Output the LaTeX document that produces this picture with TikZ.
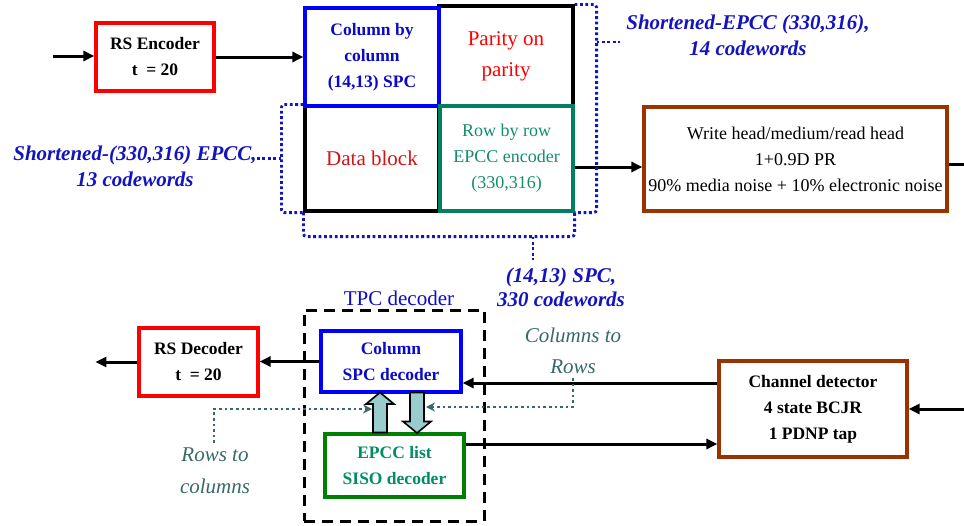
\documentclass[tikz,border=0pt]{standalone}
\usepackage{fontspec}
\setmainfont{Liberation Serif}
\usetikzlibrary{arrows.meta,calc}

\definecolor{rsred}{RGB}{255,0,0}
\definecolor{dred}{RGB}{210,20,20}
\definecolor{cblue}{RGB}{0,0,255}
\definecolor{tblue}{RGB}{10,10,200}
\definecolor{lblue}{RGB}{20,20,190}
\definecolor{rteal}{RGB}{0,128,96}
\definecolor{rtealtxt}{RGB}{20,140,110}
\definecolor{egreen}{RGB}{0,128,0}
\definecolor{egreentxt}{RGB}{0,140,100}
\definecolor{brown}{RGB}{153,51,0}
\definecolor{dotteal}{RGB}{55,105,105}
\definecolor{arrfill}{RGB}{153,204,204}

\begin{document}
\begin{tikzpicture}[x=1pt,y=-1pt,
  box/.style={draw, line width=3.2pt, inner sep=0pt, align=center},
  bfbox/.style={box, font=\fontsize{17.5}{26}\selectfont\bfseries},
  rmbox/.style={box, font=\fontsize{18}{26}\selectfont},
  bigbox/.style={box, font=\fontsize{21}{31}\selectfont},
  conn/.style={line width=3pt, -{Triangle[length=11pt,width=10pt]}},
  plainline/.style={line width=3pt},
  bracket/.style={lblue, line width=2.8pt, dash pattern=on 2.8pt off 2.6pt, rounded corners=3pt},
  dotconn/.style={dotteal, line width=2.6pt, dash pattern=on 2.6pt off 3pt,
    -{Stealth[length=9pt,width=9pt]}},
  blockarrow/.style={draw=black, line width=1.6pt, fill=arrfill, line join=miter},
  noteblue/.style={align=center, text=lblue, font=\fontsize{21}{26}\selectfont\bfseries\itshape},
  noteteal/.style={align=center, text=dotteal, font=\fontsize{21}{32}\selectfont\itshape}
]
\useasboundingbox (0,0) rectangle (964,525);

% ---------------- encoder chain ----------------
\node[bfbox, draw=rsred, minimum width=118pt, minimum height=68pt]
  (rsenc) at (155,57) {RS Encoder\\t~ = 20};

% product code array
\node[bigbox, draw=black, text=dred, minimum width=134pt, minimum height=105pt]
  (datablock) at (372,158.5) {Data block};
\node[bigbox, draw=black, text=rsred, minimum width=134pt, minimum height=100pt]
  (parity) at (506,56) {Parity on\\parity};
\node[bfbox, draw=cblue, text=tblue, minimum width=134pt, minimum height=98pt]
  (colbycol) at (372,57) {Column by\\column\\(14,13) SPC};
\node[rmbox, draw=rteal, text=rtealtxt, minimum width=133pt, minimum height=105pt]
  (rowbyrow) at (506.5,158.5) {Row by row\\EPCC encoder\\(330,316)};

\node[rmbox, draw=brown, minimum width=303pt, minimum height=104pt]
  (writehead) at (795.5,159)
  {Write head/medium/read head\\1+0.9D PR\\90\% media noise + 10\% electronic noise};

\coordinate (encin) at (53,56);
\draw[conn] (encin) -- (encin -| rsenc.west);
\draw[conn] (rsenc.east) -- (rsenc.east -| colbycol.west);
\coordinate (rowout) at ([yshift=-8.5pt]rowbyrow.east);
\draw[conn] (rowout) -- (rowout -| writehead.west);
\draw[plainline] ([yshift=-5pt]writehead.east) -- ++(20,0);

% code-structure brackets
\draw[bracket] (datablock.north west) -- ++(-22,0) |- (datablock.south west);
\draw[bracket] ($(datablock.west)+(-22,0)$) -- ++(-26,0);
\draw[bracket] (parity.north east) -- ++(22,0) |- (rowbyrow.south east);
\draw[bracket] ($(parity.east)+(22,-14)$) -- ++(23,0);
\draw[bracket] (datablock.south west) -- ++(0,24) -| (rowbyrow.south east);
\draw[bracket] ($(rowbyrow.south)+(26.5,24)$) -- ++(0,23);

\node[noteblue] (note13) at (135,166) {Shortened-(330,316) EPCC,\\13 codewords};
\node[noteblue] (note14) at (748,35) {Shortened-EPCC (330,316),\\14 codewords};
\node[noteblue, font=\fontsize{21}{24}\selectfont\bfseries\itshape]
  (notespc) at (561,287) {(14,13) SPC,\\330 codewords};

% ---------------- decoder chain ----------------
\node[draw=black, line width=3pt, dash pattern=on 11pt off 7pt,
  minimum width=180pt, minimum height=211pt, inner sep=0pt]
  (tpc) at (394,415.5) {};
\node[text=tblue, font=\fontsize{21}{26}\selectfont] (tpclabel) at (399,298) {TPC decoder};

\node[bfbox, draw=rsred, minimum width=119pt, minimum height=68pt]
  (rsdec) at (198.5,362) {RS Decoder\\t~ = 20};
\node[bfbox, draw=cblue, text=tblue, minimum width=140pt, minimum height=61pt]
  (colspc) at (391,361.5) {Column\\SPC decoder};
\node[bfbox, draw=egreen, text=egreentxt, minimum width=139pt, minimum height=63pt]
  (epcc) at (394.5,465.5) {EPCC list\\SISO decoder};
\node[bfbox, draw=brown, minimum width=188pt, minimum height=96pt]
  (chdet) at (813,409) {Channel detector\\4 state BCJR\\1 PDNP tap};

\draw[conn] (colspc.west) -- (colspc.west -| rsdec.east);
\draw[conn] (rsdec.west) -- ++(-42,0);
\coordinate (detout) at ([yshift=26pt]chdet.west);
\draw[conn] (detout) -- (detout -| colspc.east);
\coordinate (epccout) at ([yshift=21.5pt]epcc.east);
\draw[conn] (epccout) -- (epccout -| chdet.west);
\coordinate (detin) at (964,409);
\draw[conn] (detin) -- (chdet.east);

% exchange of extrinsic information between the component decoders
\draw[blockarrow] (373,432.5) -- (373,404) -- (366,404) -- (380,392.5)
  -- (394,404) -- (387,404) -- (387,432.5) -- cycle;
\draw[blockarrow] (410,392.5) -- (410,421.5) -- (403,421.5) -- (417,433)
  -- (431,421.5) -- (424,421.5) -- (424,392.5) -- cycle;
\coordinate (upshaft) at (372,409);
\coordinate (dnshaft) at (426,407);

\node[noteteal] (rowsto) at (215,471) {Rows to\\columns};
\node[noteteal, font=\fontsize{21}{31}\selectfont\itshape] (colsto) at (573,351) {Columns to\\Rows};
\coordinate (rowstotop) at (214,443);
\coordinate (colstobot) at (573,378);
\draw[dotconn] (rowstotop) |- (upshaft);
\draw[dotconn] (colstobot) |- (dnshaft);
\end{tikzpicture}
\end{document}
